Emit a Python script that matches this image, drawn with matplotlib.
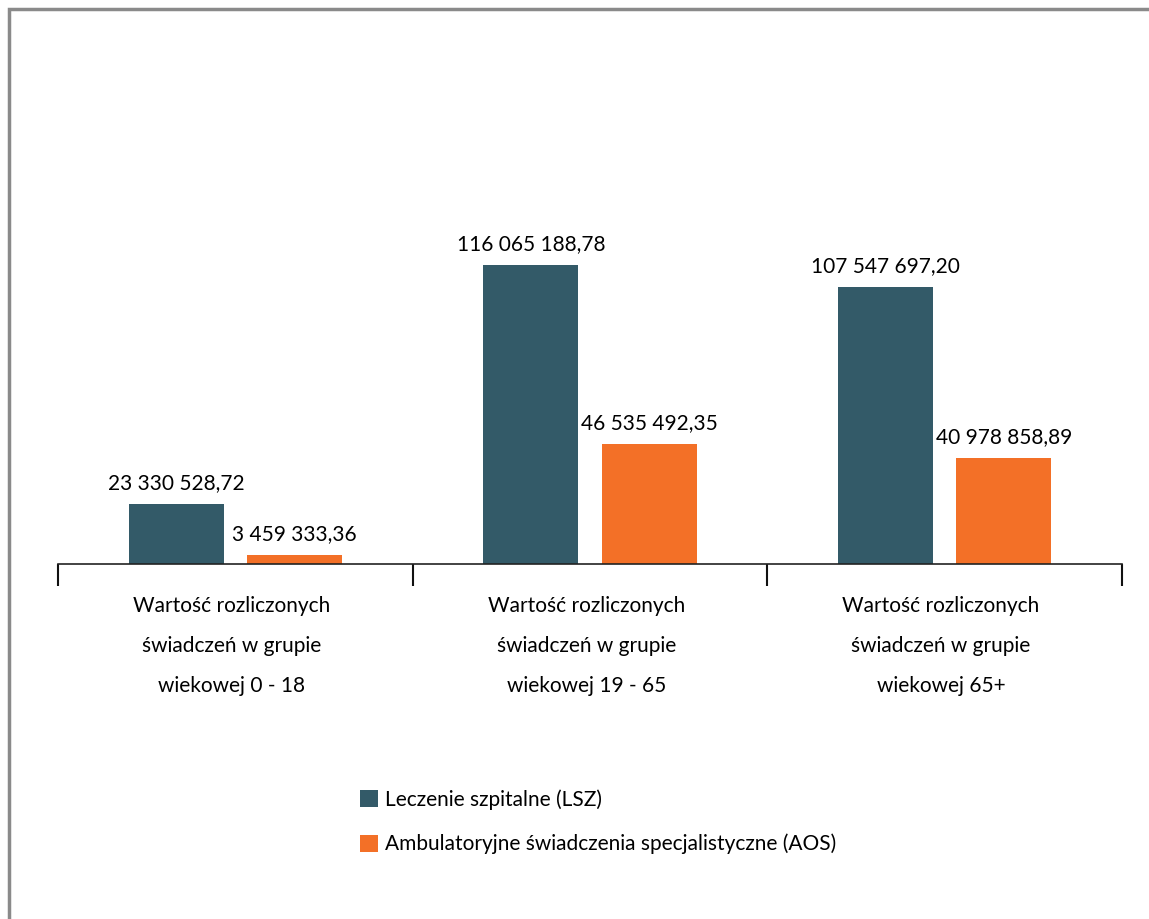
import numpy as np
import matplotlib
matplotlib.use('Agg')
import matplotlib.pyplot as plt
from matplotlib.patches import Rectangle

plt.rcParams['font.family'] = ['Lato', 'DejaVu Sans']

# data
categories = ['Wartość rozliczonych\nświadczeń w grupie\nwiekowej 0 - 18',
              'Wartość rozliczonych\nświadczeń w grupie\nwiekowej 19 - 65',
              'Wartość rozliczonych\nświadczeń w grupie\nwiekowej 65+']
series_names = ['Leczenie szpitalne (LSZ)',
                'Ambulatoryjne świadczenia specjalistyczne (AOS)']
lsz = [23330528.72, 116065188.78, 107547697.20]
aos = [3459333.36, 46535492.35, 40978858.89]
lsz_labels = ['23 330 528,72', '116 065 188,78', '107 547 697,20']
aos_labels = ['3 459 333,36', '46 535 492,35', '40 978 858,89']

c_lsz = '#335a68'
c_aos = '#f37027'
fs = 15

fig = plt.figure(figsize=(11.49, 9.19), dpi=100)
ax = fig.add_axes([58/1149, 1-564/919, 1064/1149, 534/919])

x = np.arange(len(categories))
w = 0.268
off = 0.1665
b1 = ax.bar(x - off, lsz, w, color=c_lsz, label=series_names[0])
b2 = ax.bar(x + off, aos, w, color=c_aos, label=series_names[1])

for rect, lab in zip(b1, lsz_labels):
    ax.annotate(lab, (rect.get_x() + rect.get_width()/2, rect.get_height()),
                xytext=(0, 8), textcoords='offset points', ha='center', va='bottom', fontsize=fs)
for rect, lab in zip(b2, aos_labels):
    ax.annotate(lab, (rect.get_x() + rect.get_width()/2, rect.get_height()),
                xytext=(0, 8), textcoords='offset points', ha='center', va='bottom', fontsize=fs)

ax.set_xlim(-0.5, 2.5)
ax.set_ylim(0, 207.3e6)
for s in ['top', 'right', 'left']:
    ax.spines[s].set_visible(False)
ax.spines['bottom'].set_color('#222222')
ax.spines['bottom'].set_linewidth(1.2)
ax.set_yticks([])
ax.set_xticks([-0.5, 0.5, 1.5, 2.5])
ax.set_xticklabels([])
ax.tick_params(axis='x', length=16, width=1.5, color='#111111')
for i, c in enumerate(categories):
    ax.text(i - 0.01, -0.1536, c, transform=ax.get_xaxis_transform(), ha='center', va='center',
            fontsize=fs, linespacing=2.25)

ax.legend(loc='upper left', bbox_to_anchor=(352/1149, 1-781/919), bbox_transform=fig.transFigure,
          frameon=False, fontsize=fs, handlelength=0.85, handleheight=0.85, handletextpad=0.35,
          labelspacing=1.15, borderaxespad=0)

# outer border
fig.patches.append(Rectangle((9/1149, -0.1), 1.2, 1-9/919+0.1, transform=fig.transFigure,
                             fill=False, edgecolor='#8a8a8a', linewidth=2.5))

plt.savefig('out.png', dpi=100)
plt.close()
